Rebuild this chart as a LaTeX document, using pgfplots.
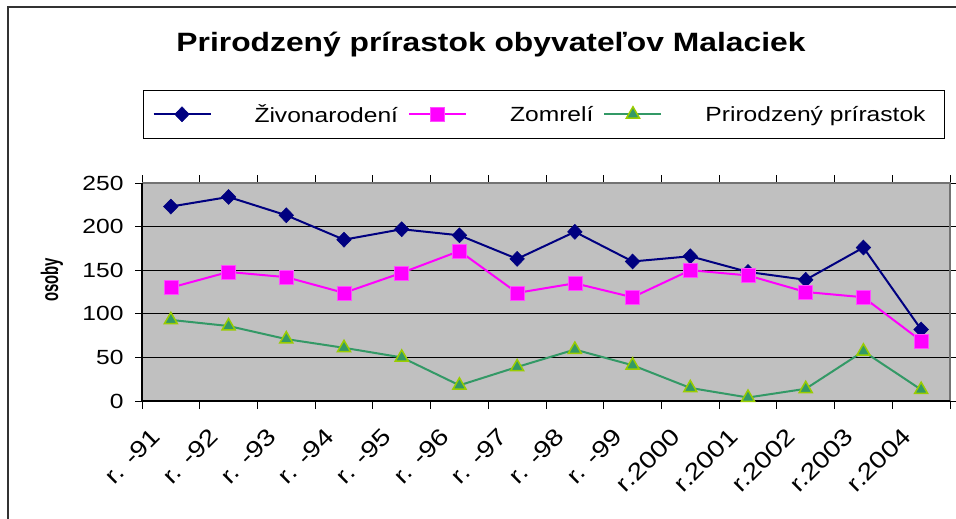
\documentclass[border=0pt]{standalone}
\usepackage{fontspec}
\setmainfont{Liberation Sans}[FakeStretch=1.2]
\newfontfamily\ylabfont{Liberation Sans}[FakeStretch=0.62]
\usepackage{pgfplots}
\pgfplotsset{compat=1.18}
\definecolor{navyc}{HTML}{000080}
\definecolor{magc}{HTML}{FF00FF}
\definecolor{greenc}{HTML}{339966}
\definecolor{limec}{HTML}{99CC00}
\definecolor{plotbg}{HTML}{C0C0C0}
\begin{document}
\begin{tikzpicture}
\useasboundingbox (0pt,0pt) rectangle (956pt,-519pt);
\draw[line width=2pt, black!80] (7.5pt,-519pt) -- (7.5pt,-7.5pt) -- (956pt,-7.5pt);
\node[font=\fontsize{26.5}{30}\selectfont\bfseries] at (491pt,-45pt) {Prirodzený prírastok obyvateľov Malaciek};
\node[rotate=90, font=\ylabfont\bfseries\fontsize{24}{28}\selectfont] at (52pt,-280pt) {osoby};
\begin{axis}[
  at={(142pt,-401pt)}, anchor=south west,
  scale only axis, width=808pt, height=218pt,
  xmin=-0.5, xmax=13.5, ymin=0, ymax=250,
  axis background/.style={fill=plotbg},
  axis line style={draw=none},
  xtick={0,...,13},
  xticklabels={r. -91,r. -92,r. -93,r. -94,r. -95,r. -96,r. -97,r. -98,r. -99,r.2000,r.2001,r.2002,r.2003,r.2004},
  major x tick style={draw=none},
  minor xtick={-0.5,0.5,...,13.5},
  minor tick length=8pt,
  xtick align=outside, ytick align=outside,
  ytick={0,50,...,250},
  major tick length=7pt,
  tick style={black, line width=0.8pt},
  ymajorgrids, grid style={black, line width=1pt},
  /pgf/number format/assume math mode=true,
  yticklabel style={font=\fontsize{20.5}{24}\selectfont, xshift=-8pt},
  xticklabel style={font=\fontsize{23.5}{28}\selectfont, rotate=45, anchor=north east, xshift=-24pt, yshift=5pt},
  legend columns=3,
  legend style={at={(axis description cs:0,1)}, anchor=south west, xshift=1pt, yshift=44pt,
    draw=black, line width=1pt, fill=white, font=\fontsize{20.5}{24}\selectfont,
    inner xsep=9pt, inner ysep=11.5pt,
    nodes={inner xsep=0pt, inner ysep=3pt},
    /tikz/every odd column/.append style={column sep=43pt},
    /tikz/every even column/.append style={column sep=10pt}},
  legend cell align=left,
  legend image code/.code={\draw[mark repeat=2,mark phase=2,#1] plot coordinates {(0pt,0pt) (28.5pt,0pt) (57pt,0pt)};},
  clip=false,
]
\addplot[navyc, line width=2pt, mark=diamond*, mark size=7.5pt, mark options={fill=navyc, draw=navyc, xscale=1.3, line width=0.5pt}]
  coordinates {(0,223) (1,234) (2,213) (3,185) (4,197) (5,190) (6,163) (7,194) (8,160) (9,166) (10,148) (11,139) (12,176) (13,82)};
\addlegendentry{Živonarodení}
\addplot[magc, line width=2pt, mark=square*, mark size=7pt, mark options={fill=magc, draw=magc!70!white, line width=0.5pt}]
  coordinates {(0,130) (1,148) (2,142) (3,124) (4,147) (5,172) (6,124) (7,135) (8,119) (9,150) (10,144) (11,125) (12,119) (13,69)};
\addlegendentry{Zomrelí}
\addplot[greenc, line width=2pt, mark=triangle*, mark size=7.5pt, mark options={fill=greenc, draw=limec, line width=1.5pt}]
  coordinates {(0,93) (1,86) (2,71) (3,61) (4,50) (5,18) (6,39) (7,59) (8,41) (9,15) (10,4) (11,14) (12,57) (13,13)};
\addlegendentry{Prirodzený prírastok\hspace*{10pt}}
\draw[black!55, line width=1.2pt] (rel axis cs:0,1) -- (rel axis cs:1,1) -- (rel axis cs:1,0);
\draw[black, line width=1.2pt] (rel axis cs:0,1) -- (rel axis cs:0,0) -- (rel axis cs:1,0);
\end{axis}
\end{tikzpicture}
\end{document}
